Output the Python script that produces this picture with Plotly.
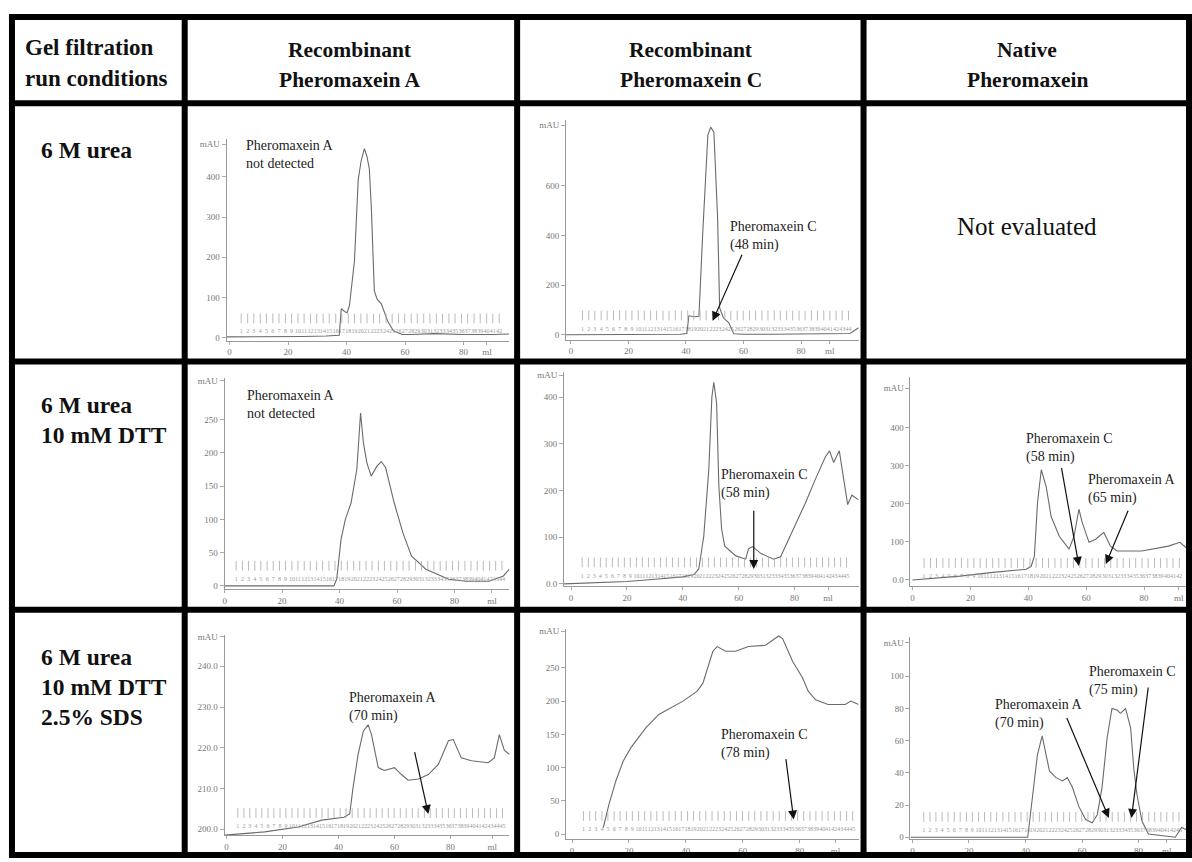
import plotly.graph_objects as go

W, H = 1192, 862

# ---------------- data ----------------
# Row 1: 6 M urea
p11_ml = [-1, 5, 15, 25, 33, 37.5, 38.2, 39.3, 40.2, 41, 42.7, 44, 45, 46.1, 47, 47.8, 48.5, 49.1, 49.5, 50.5, 51.9, 54, 56, 59, 62, 70, 80, 90, 95.6]
p11_mau = [2, 2, 3, 3, 4, 6, 72, 65, 62, 80, 190, 393, 440, 470, 450, 420, 320, 215, 116, 95, 84, 42, 17, 8, 8, 10, 8, 8, 9]

p12_ml = [-1.7, 10, 20, 30, 38, 40.3, 41, 43, 44.5, 45.8, 47.6, 48.6, 49.7, 51, 51.7, 53, 54.9, 56.6, 60, 70, 80, 90, 97, 100]
p12_mau = [0, 0, 0, 0, 2, 5, 76, 72, 74, 404, 804, 836, 816, 468, 108, 68, 48, 4, 2, 2, 2, 2, 5, 28]

# Row 2: 6 M urea + 10 mM DTT
p21_ml = [0, 10, 20, 30, 38, 39, 40.5, 42, 44, 46, 47.3, 48.3, 49.5, 51, 53, 54.5, 56, 59, 62, 65, 70, 78, 84, 92, 97, 99]
p21_mau = [0, 0, 0, 0, 0, 10, 70, 100, 125, 175, 260, 215, 185, 165, 180, 187, 178, 125, 80, 45, 25, 10, 7, 7, 15, 25]

p22_ml = [-2.5, 10, 20, 30, 40, 44, 45.7, 47.5, 49.3, 50.4, 51.1, 52.1, 52.9, 53.9, 55, 59, 62.5, 63.5, 65, 68, 72.5, 75, 79, 84, 87.5, 91, 92.5, 94, 96, 97.5, 99, 100.5, 102.9]
p22_mau = [0, 2, 5, 10, 15, 20, 32, 102, 245, 400, 432, 387, 209, 117, 81, 60, 53, 75, 80, 65, 53, 58, 110, 175, 225, 272, 285, 260, 285, 225, 170, 190, 180]

p23_ml = [0, 16.4, 27.8, 39.3, 41, 42.1, 43.2, 44.5, 46.2, 47.9, 50.7, 54.1, 55.8, 57.5, 58.6, 61, 63.3, 66.1, 68.4, 70.7, 79.2, 88.4, 92.4, 95.9]
p23_mau = [0, 10, 20, 28, 36, 62, 204, 290, 245, 167, 115, 81, 115, 186, 152, 99, 107, 125, 89, 76, 76, 89, 99, 76]

# Row 3: 6 M urea + 10 mM DTT + 2.5% SDS
p31_ml = [-0.7, 13.6, 25.6, 34, 42, 44, 45.2, 47, 48.9, 50.6, 51.8, 54.2, 56.4, 60, 62.5, 64.9, 68.6, 72.1, 75.7, 79.3, 81, 83.9, 87.5, 93.5, 95.7, 97.5, 99.3, 101.8]
p31_mau = [198.5, 199.3, 200.5, 202.2, 202.9, 203.7, 210.2, 218.3, 224.1, 225.6, 223.2, 215.1, 214.4, 215.1, 213.4, 212, 212.3, 213.4, 215.9, 221.7, 222, 217.5, 216.8, 216.3, 217.5, 223.2, 219.3, 218]

p32_ml = [11, 13, 15.4, 18, 20.7, 26, 30.5, 39, 44, 46, 49.5, 51, 54, 57.5, 62, 68, 72.6, 74, 77.5, 81, 83, 85.6, 90, 96, 98, 100.7]
p32_mau = [10, 45, 80, 110, 130, 160, 180, 200, 215, 227, 275, 282, 275, 275, 282, 284, 298, 294, 260, 235, 215, 202, 195, 195, 200, 195]

p33_ml = [-0.7, 40.8, 42.6, 44.2, 45.9, 47.3, 48.5, 50.8, 53.1, 54.8, 56.6, 58.9, 61.3, 63.6, 65.4, 67.1, 68.9, 70.6, 72.4, 73.6, 75.4, 77.2, 78.3, 79.4, 81.2, 83.5, 93, 95.2, 98]
p33_mau = [0, 0, 27, 51, 63, 51, 41, 37, 35, 37, 31, 19, 11, 9, 14, 31, 62, 80, 79, 77, 80, 68, 43, 27, 10, 2, 0, 6, 4]

# fraction collector marks (ml) and fraction numbers
fraction_ml = [4.0, 6.2, 8.3, 10.5, 12.6, 14.8, 16.9, 19.1, 21.2, 23.4, 25.5, 27.7, 29.8, 32.0, 34.1,
               36.3, 38.4, 40.6, 42.7, 44.9, 47.0, 49.2, 51.3, 53.5, 55.6, 57.8, 59.9, 62.1, 64.2, 66.4,
               68.5, 70.7, 72.8, 75.0, 77.1, 79.3, 81.4, 83.6, 85.7, 87.9, 90.0, 92.2, 94.3, 96.5, 98.6]
fraction_no = [str(n) for n in range(1, 46)]

# axis ticks
x_ticks = [0, 20, 40, 60, 80]
p11_yt = [0, 100, 200, 300, 400]
p12_yt = [0, 200, 400, 600]
p21_yt = [0, 50, 100, 150, 200, 250]
p22_yt = [0, 100, 200, 300, 400]
p23_yt = [0, 100, 200, 300, 400]
p31_yt = [200, 210, 220, 230, 240]
p32_yt = [0, 50, 100, 150, 200, 250]
p33_yt = [0, 20, 40, 60, 80, 100]
p22_ytt = ['0.0', '100', '200', '300', '400']
p23_ytt = ['0.0', '100', '200', '300', '400']
p31_ytt = ['200.0', '210.0', '220.0', '230.0', '240.0']

# table text
col_headers = [["Recombinant", "Pheromaxein A"], ["Recombinant", "Pheromaxein C"], ["Native", "Pheromaxein"]]
corner_header = ["Gel filtration", "run conditions"]
row_labels = [["6 M urea"], ["6 M urea", "10 mM DTT"], ["6 M urea", "10 mM DTT", "2.5% SDS"]]

# ---------------- layout configuration ----------------
panels = [
    dict(ml=p11_ml, mau=p11_mau, xpx=(225, 508), ypx=(137, 340), xr=(-1.0, 95.6), yr=(-7.4, 494),
         yt=p11_yt, ytt=[str(v) for v in p11_yt], mau_at=481, ml_at=88),
    dict(ml=p12_ml, mau=p12_mau, xpx=(565, 858), ypx=(118, 339), xr=(-1.7, 100), yr=(-20, 864),
         yt=p12_yt, ytt=[str(v) for v in p12_yt], mau_at=844, ml_at=90),
    dict(ml=p21_ml, mau=p21_mau, xpx=(223, 508), ypx=(378, 590), xr=(0, 99), yr=(-4.5, 312),
         yt=p21_yt, ytt=[str(v) for v in p21_yt], mau_at=309, ml_at=93),
    dict(ml=p22_ml, mau=p22_mau, xpx=(563, 858), ypx=(372, 587), xr=(-2.5, 102.9), yr=(-4.3, 453),
         yt=p22_yt, ytt=p22_ytt, mau_at=447, ml_at=92),
    dict(ml=p23_ml, mau=p23_mau, xpx=(910, 1186), ypx=(377, 587), xr=(-0.7, 94.5), yr=(-15.7, 533),
         yt=p23_yt, ytt=p23_ytt, mau_at=505, ml_at=92),
    dict(ml=p31_ml, mau=p31_mau, xpx=(223, 508), ypx=(636, 838), xr=(-0.7, 101), yr=(198.5, 247.8),
         yt=p31_yt, ytt=p31_ytt, mau_at=247.3, ml_at=95),
    dict(ml=p32_ml, mau=p32_mau, xpx=(565, 858), ypx=(630, 842), xr=(-2.1, 100.7), yr=(-7.5, 309),
         yt=p32_yt, ytt=[str(v) for v in p32_yt], mau_at=305, ml_at=92.6),
    dict(ml=p33_ml, mau=p33_mau, xpx=(910, 1186), ypx=(638, 842), xr=(-0.7, 96.8), yr=(-1.2, 124.7),
         yt=p33_yt, ytt=[str(v) for v in p33_yt], mau_at=121, ml_at=90),
]

SERIF = "Liberation Serif, Times New Roman, serif"
TICKFONT = dict(family=SERIF, size=9, color="#777")


def pxx(px):
    return px / W


def pxy(py):
    return 1 - py / H


fig = go.Figure()
layout_axes = {}
for i, p in enumerate(panels, start=1):
    xa = "x" if i == 1 else f"x{i}"
    ya = "y" if i == 1 else f"y{i}"
    fig.add_trace(go.Scatter(x=p["ml"], y=p["mau"], mode="lines", xaxis=xa, yaxis=ya,
                             line=dict(color="#6a6a6a", width=1.1), showlegend=False, hoverinfo="skip"))
    span = p["yr"][1] - p["yr"][0]
    # only the fraction marks that fall well inside this panel's visible range
    keep = [k for k, v in enumerate(fraction_ml) if p["xr"][0] + 1 < v < p["xr"][1] - 2]
    f_ml = [fraction_ml[k] for k in keep]
    f_no = [fraction_no[k] for k in keep]
    fig.add_trace(go.Scatter(x=f_ml, y=[p["yr"][0] + 0.11 * span] * len(f_ml), mode="markers",
                             xaxis=xa, yaxis=ya, showlegend=False, hoverinfo="skip",
                             marker=dict(symbol="line-ns", size=7, line=dict(width=0.8, color="#aaa"))))
    fig.add_trace(go.Scatter(x=f_ml, y=[p["yr"][0] + 0.045 * span] * len(f_ml), mode="text",
                             text=f_no, xaxis=xa, yaxis=ya, showlegend=False, hoverinfo="skip",
                             textfont=dict(family=SERIF, size=6, color="#999")))
    layout_axes["xaxis" if i == 1 else f"xaxis{i}"] = dict(
        domain=[pxx(p["xpx"][0]), pxx(p["xpx"][1])], range=list(p["xr"]), anchor=ya,
        tickvals=x_ticks + [p["ml_at"]], ticktext=[str(v) for v in x_ticks] + ["ml"],
        showline=True, linecolor="#999", linewidth=1, ticks="outside", ticklen=3, tickcolor="#aaa",
        showgrid=False, zeroline=False, tickfont=TICKFONT, fixedrange=True)
    layout_axes["yaxis" if i == 1 else f"yaxis{i}"] = dict(
        domain=[pxy(p["ypx"][1]), pxy(p["ypx"][0])], range=list(p["yr"]), anchor=xa,
        tickvals=p["yt"] + [p["mau_at"]], ticktext=p["ytt"] + ["mAU"],
        showline=True, linecolor="#999", linewidth=1, ticks="outside", ticklen=4, tickcolor="#aaa",
        showgrid=False, zeroline=False, tickfont=TICKFONT, fixedrange=True)

fig.update_layout(**layout_axes)

annotations = []


def label(text, px, py, size=14, bold=False, xanchor="left", yanchor="middle", color="#222", align="left"):
    t = f"<b>{text}</b>" if bold else text
    annotations.append(dict(text=t, x=pxx(px), y=pxy(py), xref="paper", yref="paper", showarrow=False,
                            xanchor=xanchor, yanchor=yanchor, align=align,
                            font=dict(family=SERIF, size=size, color=color)))


def arrow(i, tip, tail):
    xa = "x" if i == 1 else f"x{i}"
    ya = "y" if i == 1 else f"y{i}"
    annotations.append(dict(x=tip[0], y=tip[1], ax=tail[0], ay=tail[1], xref=xa, yref=ya, axref=xa, ayref=ya,
                            text="", showarrow=True, arrowhead=2, arrowsize=1.5, arrowwidth=1.2,
                            arrowcolor="#111"))


# table header and row labels
label(corner_header[0], 21, 45, size=23, bold=True, color="#111")
label(corner_header[1], 21, 76, size=23, bold=True, color="#111")
col_centers = [349, 690, 1027]
for cx, (a, b) in zip(col_centers, col_headers):
    label(a, cx, 47, size=21.5, bold=True, xanchor="center", color="#111")
    label(b, cx, 78, size=21.5, bold=True, xanchor="center", color="#111")
row_label_y = [[148], [405, 435], [659, 689, 719]]
for lines, ys in zip(row_labels, row_label_y):
    for t, y in zip(lines, ys):
        label(t, 37, y, size=23.5, bold=True, color="#111")

label("Not evaluated", 1027, 225, size=25, xanchor="center", color="#111")

# panel annotations
label("Pheromaxein A<br>not detected", 242, 134, yanchor="top")
label("Pheromaxein C<br>(48 min)", 727, 216, yanchor="top")
arrow(2, (49.3, 56), (59.7, 328))

label("Pheromaxein A<br>not detected", 243, 386, yanchor="top")
label("Pheromaxein C<br>(58 min)", 718, 465, yanchor="top")
arrow(4, (65.4, 32), (65.4, 160))

label("Pheromaxein C<br>(58 min)", 1024, 429, yanchor="top")
arrow(5, (57.5, 37), (51.4, 298))
label("Pheromaxein A<br>(65 min)", 1086, 470, yanchor="top")
arrow(5, (66.8, 42), (74.7, 186))

label("Pheromaxein A<br>(70 min)", 346, 690, yanchor="top")
arrow(6, (72.1, 203.7), (67.1, 219.3))

label("Pheromaxein C<br>(78 min)", 718, 727, yanchor="top")
arrow(7, (77.9, 22), (75.1, 115))

label("Pheromaxein C<br>(75 min)", 1087, 664, yanchor="top")
arrow(8, (77.5, 12), (83.5, 94))
label("Pheromaxein A<br>(70 min)", 993, 697, yanchor="top")
arrow(8, (69.5, 12), (54.4, 75))

# table borders
shapes = []
h_lines = [14, 101, 361, 611, 858]
v_lines = [10, 183, 516, 863, 1189]
for y in h_lines:
    shapes.append(dict(type="line", xref="paper", yref="paper", x0=pxx(7), x1=pxx(1192), y0=pxy(y), y1=pxy(y),
                       line=dict(color="black", width=6)))
for x in v_lines:
    shapes.append(dict(type="line", xref="paper", yref="paper", x0=pxx(x), x1=pxx(x), y0=pxy(11), y1=pxy(861),
                       line=dict(color="black", width=6)))

fig.update_layout(width=W, height=H, margin=dict(l=0, r=0, t=0, b=0), paper_bgcolor="white",
                  plot_bgcolor="white", annotations=annotations, shapes=shapes, hovermode=False,
                  showlegend=False)

fig.write_html("out.html", config={"displayModeBar": False},
               post_script="document.body.style.margin='0';document.body.style.overflow='hidden';")
